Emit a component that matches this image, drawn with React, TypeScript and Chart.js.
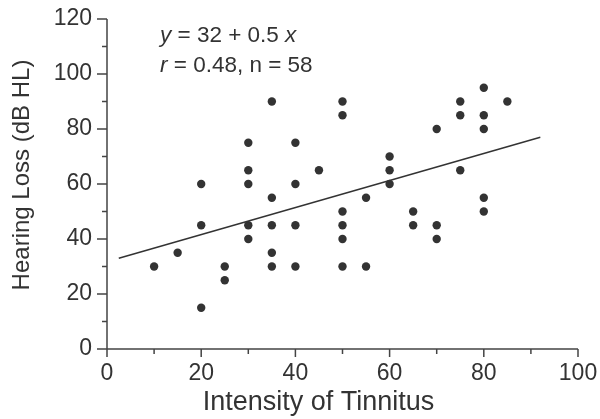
import React, { useEffect, useRef } from "react";
import { Chart, registerables } from "chart.js";

Chart.register(...registerables);

// Observations (tinnitus intensity, hearing loss in dB HL)
const tinnitusIntensity = [10, 15, 20, 20, 20, 25, 25, 30, 30, 30, 30, 30, 35, 35, 35, 35, 35, 40, 40, 40, 40, 45, 50, 50, 50, 50, 50, 50, 55, 55, 60, 60, 60, 65, 65, 70, 70, 70, 75, 75, 75, 80, 80, 80, 80, 80, 85];
const hearingLoss = [30, 35, 60, 45, 15, 30, 25, 75, 65, 60, 45, 40, 90, 55, 45, 35, 30, 75, 60, 45, 30, 65, 90, 85, 50, 45, 40, 30, 55, 30, 70, 65, 60, 50, 45, 80, 45, 40, 90, 85, 65, 95, 85, 80, 55, 50, 90];

// Regression line end points
const fitX = [2.5, 92];
const fitY = [33, 77];

const xMin = 0;
const xMax = 100;
const yMin = 0;
const yMax = 120;
const tickStep = 10;
const labelStep = 20;

const xTitle = "Intensity of Tinnitus";
const yTitle = "Hearing Loss (dB HL)";
const eqLine1 = [
  { text: "y", italic: true },
  { text: " = 32 + 0.5 ", italic: false },
  { text: "x", italic: true },
];
const eqLine2 = [
  { text: "r", italic: true },
  { text: " = 0.48, n = 58", italic: false },
];

const FONT = "'Liberation Sans', Arial, Helvetica, sans-serif";
const INK = "#333333";

const axesPlugin = {
  id: "axesAndNotes",
  afterDraw(chart: any) {
    const ctx = chart.ctx;
    const xs = chart.scales.x;
    const ys = chart.scales.y;
    const x0 = xs.getPixelForValue(xMin);
    const x1 = xs.getPixelForValue(xMax);
    const y0 = ys.getPixelForValue(yMin);
    const y1 = ys.getPixelForValue(yMax);
    ctx.save();
    ctx.strokeStyle = "#444444";
    ctx.lineWidth = 1.5;
    ctx.beginPath();
    ctx.moveTo(x0, y1);
    ctx.lineTo(x0, y0);
    ctx.moveTo(x0, y0);
    ctx.lineTo(x1, y0);
    for (let v = yMin; v <= yMax; v += tickStep) {
      const p = ys.getPixelForValue(v);
      const len = v % labelStep === 0 ? 10 : 5;
      ctx.moveTo(x0 - len, p);
      ctx.lineTo(x0, p);
    }
    for (let v = xMin; v <= xMax; v += tickStep) {
      const p = xs.getPixelForValue(v);
      const len = v % labelStep === 0 ? 8 : 5;
      ctx.moveTo(p, y0);
      ctx.lineTo(p, y0 + len);
    }
    ctx.stroke();

    // axis titles
    ctx.fillStyle = INK;
    ctx.textAlign = "center";
    ctx.textBaseline = "middle";
    ctx.font = `27px ${FONT}`;
    ctx.fillText(xTitle, 318.5, 403);
    ctx.save();
    ctx.translate(22.5, 175);
    ctx.rotate(-Math.PI / 2);
    ctx.font = `24px ${FONT}`;
    ctx.fillText(yTitle, 0, 0);
    ctx.restore();

    // equation annotation
    const size = 22.5;
    const drawLine = (parts: any[], startX: number, baseY: number) => {
      let cx = startX;
      ctx.fillStyle = INK;
      ctx.textBaseline = "alphabetic";
      ctx.textAlign = "left";
      for (const part of parts) {
        ctx.font = `${part.italic ? "italic " : ""}${size}px ${FONT}`;
        ctx.fillText(part.text, cx, baseY);
        cx += ctx.measureText(part.text).width;
      }
    };
    drawLine(eqLine1, 160, 42);
    drawLine(eqLine2, 160, 72);
    ctx.restore();
  },
};

export default function App() {
  const ref = useRef<HTMLCanvasElement | null>(null);
  useEffect(() => {
    if (!ref.current) return;
    const pts = tinnitusIntensity.map((x, i) => ({ x, y: hearingLoss[i] }));
    const fit = fitX.map((x, i) => ({ x, y: fitY[i] }));
    const chart = new Chart(ref.current, {
      type: "scatter",
      data: {
        datasets: [
          {
            type: "line",
            data: fit,
            borderColor: INK,
            borderWidth: 1.5,
            pointRadius: 0,
            showLine: true,
            fill: false,
          } as any,
          {
            data: pts,
            backgroundColor: INK,
            borderColor: INK,
            borderWidth: 0,
            pointRadius: 4.2,
          },
        ],
      },
      options: {
        animation: false,
        responsive: false,
        devicePixelRatio: 1,
        layout: { padding: { top: 19, right: 22, left: 0, bottom: 0 } },
        plugins: { legend: { display: false }, tooltip: { enabled: false } },
        scales: {
          x: {
            type: "linear",
            min: xMin,
            max: xMax,
            grid: { display: false, drawTicks: true, tickLength: 11 },
            border: { display: false },
            ticks: {
              stepSize: tickStep,
              autoSkip: false,
              maxRotation: 0,
              padding: 0,
              color: INK,
              font: { family: FONT, size: 23 },
              callback: (v: any) => (Number(v) % labelStep === 0 ? String(v) : ""),
            },
            title: { display: false },
            afterFit: (s: any) => {
              s.height = 70;
            },
          },
          y: {
            type: "linear",
            min: yMin,
            max: yMax,
            grid: { display: false, drawTicks: true, tickLength: 15 },
            border: { display: false },
            ticks: {
              stepSize: tickStep,
              autoSkip: false,
              padding: 0,
              color: INK,
              font: { family: FONT, size: 23 },
              callback: (v: any) => (Number(v) % labelStep === 0 ? String(v) : ""),
            },
            title: { display: false },
            afterFit: (s: any) => {
              s.width = 107;
            },
          },
        },
      },
      plugins: [axesPlugin],
    });
    return () => chart.destroy();
  }, []);
  return (
    <div style={{ position: "absolute", left: 0, top: 0, width: 600, height: 419, background: "#fff" }}>
      <canvas ref={ref} width={600} height={419} style={{ display: "block" }} />
    </div>
  );
}
